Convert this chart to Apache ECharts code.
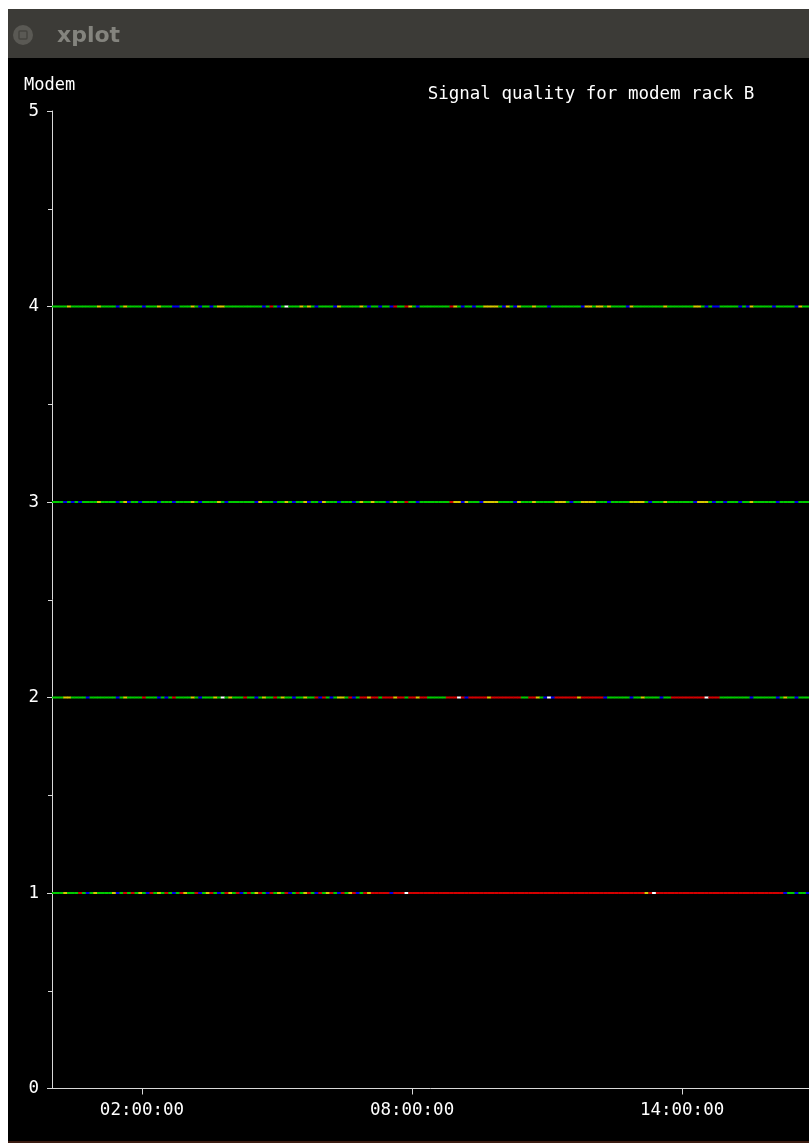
<!DOCTYPE html>
<html>
<head>
<meta charset="utf-8">
<script src="https://cdn.jsdelivr.net/npm/echarts@6/dist/echarts.min.js"></script>
<style>
html,body{margin:0;padding:0;background:#ffffff;}
#chart{width:809px;height:1143px;}
</style>
</head>
<body>
<div id="chart"></div>
<script>
// ---- data ----
const titleText = 'Signal quality for modem rack B';
const yAxisName = 'Modem';
const yTicks = [0, 1, 2, 3, 4, 5];
const xTickHours = [2, 8, 14];
const xTickLabels = ['02:00:00', '08:00:00', '14:00:00'];
const binMinutes = 5;           // each status character covers 5 minutes, starting 00:00:00
const statusCodes = ['G', 'B', 'Y', 'R', 'W'];

const modem1Status = [
  'GGGYGGGRGB','GYGGGGYBGR','GRGYGBRGYG','RGBGRYGGRB','GYRGBGRYGR',
  'BGRGYRGBRG','YGRBGRGYRG','BRGYRGBRGY','RBGRYRRRRR','BRRRWRRRRR',
  'RRRRRRRRRR','RRRRRRRRRR','RRRRRRRRRR','RRRRRRRRRR','RRRRRRRRRR',
  'RRRRRRRRYR','WRRRRRRRRR','RRRRRRRRRR','RRRRRRRRRR','RRRRRBGGBG','GB'
].join('');
const modem2Status = [
  'GGGYYGGGGB','GGGGGGGBGY','GGGGRGGGBG','BGRGGGGYGB','GGGYGWGYGG',
  'GRGGBGYGGR','GYGGBGGYGG','RBRGBGYYGR','BGRRYRRGRR','RYRRGRRYRR',
  'GGGGGRRRWR','BRRRRRYRRR','RRRRRGGRRY','GBWBRRRRRR','YRRRRRRBGG',
  'GGGGBGGYGG','GGBGGRRRRR','RRRRWRRRGG','GGGGGGBGGG','GGGBGYGGBG','GG'
].join('');
const modem3Status = [
  'GGGBGBGBGG','GGYGGGGBGY','BGGBGGGGBG','GGBGGGGYGB','GGGGYGBGGG',
  'GGGGBYGGGB','GGYGBGGYBG','GBYGGGBGGG','BGYGGYGGGB','GYGGRGGBGG',
  'GGGGGGRYYB','YGGGBYYYYG','GGGBYGGGYG','GGGGYYYGBG','GYYYYGGGBG',
  'GGGGYYYYGB','GGGYGGGGGG','GBYYYGBGGB','GGGBGGYGGG','GGGBGGGGBG','GG'
].join('');
const modem4Status = [
  'GGGGYGGGGG','GGYGGGGBGY','GGGGBGGGYG','GGBBGGGYGB','GGBGYYGGGG',
  'GGGGGGBGRG','BGWGGGYGYG','BGGGGBYGGG','GGYGBGGBGG','BRGGRYGBGG',
  'GGGGGGRYGB','GGBGGYYYYG','BYGBYGGGYG','GGBGGGGGGG','GBYYGYYGYG',
  'GGGBYGGGGG','GGGYGGGGGG','GYYGBGBBGG','GGGBGBYGGG','GGBGGGGGBY','GG'
].join('');

// ---- styling ----
const statusColors = ['#00cc00', '#0000ee', '#d8c800', '#d40000', '#ffffff'];
const monoFont = '"DejaVu Sans Mono", "Liberation Mono", monospace';

function buildSegments(str, modem) {
  const out = [];
  for (let i = 0; i < str.length; i++) {
    out.push([i * binMinutes / 60, (i + 1) * binMinutes / 60, modem, statusCodes.indexOf(str[i])]);
  }
  return out;
}
const segData = [].concat(
  buildSegments(modem1Status, 1),
  buildSegments(modem2Status, 2),
  buildSegments(modem3Status, 3),
  buildSegments(modem4Status, 4)
);

const chart = echarts.init(document.getElementById('chart'), null, {renderer: 'canvas'});
const option = {
  backgroundColor: '#000000',
  animation: false,
  grid: {left: 52, right: 0, top: 111, bottom: 54.5, containLabel: false},
  title: {
    text: titleText,
    left: 586, top: 80, textAlign: 'center',
    textStyle: {color: '#ffffff', fontFamily: monoFont, fontSize: 17.5, fontWeight: 'normal'}
  },
  xAxis: {
    type: 'value', min: 0, max: 16.82,
    splitLine: {show: false},
    axisLine: {show: true, lineStyle: {color: '#d8d8d8', width: 1}},
    axisTick: {show: true, length: 6, customValues: xTickHours, lineStyle: {color: '#d8d8d8'}},
    axisLabel: {
      show: true, customValues: xTickHours, margin: 13,
      color: '#ffffff', fontFamily: monoFont, fontSize: 17.5,
      formatter: function (v) { const i = xTickHours.indexOf(v); return i >= 0 ? xTickLabels[i] : ''; }
    }
  },
  yAxis: {
    type: 'value', min: yTicks[0], max: yTicks[yTicks.length - 1], interval: 1,
    name: yAxisName, nameLocation: 'end', nameGap: 17,
    nameTextStyle: {color: '#ffffff', fontFamily: monoFont, fontSize: 17, align: 'left', padding: [0, 0, 0, -28]},
    splitLine: {show: false},
    axisLine: {show: true, lineStyle: {color: '#d8d8d8', width: 1}},
    axisTick: {show: true, length: 5, lineStyle: {color: '#d8d8d8'}},
    minorTick: {show: true, splitNumber: 2, length: 4, lineStyle: {color: '#d8d8d8'}},
    axisLabel: {color: '#ffffff', fontFamily: monoFont, fontSize: 17.5, margin: 13}
  },
  series: [{
    type: 'custom',
    clip: true,
    encode: {x: [0, 1], y: 2},
    data: segData,
    renderItem: function (params, api) {
      const s = api.coord([api.value(0), api.value(2)]);
      const e = api.coord([api.value(1), api.value(2)]);
      return {
        type: 'rect',
        shape: {x: s[0], y: s[1] - 1, width: e[0] - s[0] + 0.3, height: 2},
        style: {fill: statusColors[api.value(3)]}
      };
    }
  }],
  graphic: [
    {type: 'rect', left: 0, top: 0, shape: {width: 809, height: 9}, style: {fill: '#ffffff'}, z: 100},
    {type: 'rect', left: 0, top: 0, shape: {width: 8, height: 1143}, style: {fill: '#ffffff'}, z: 100},
    {type: 'rect', left: 8, top: 9, shape: {width: 801, height: 49}, style: {fill: '#3c3b37'}, z: 100},
    {type: 'circle', shape: {cx: 23, cy: 35, r: 10}, style: {fill: '#5a5954'}, z: 101},
    {type: 'rect', shape: {x: 19, y: 31, width: 8, height: 8, r: 1}, style: {fill: 'none', stroke: '#45443f', lineWidth: 1.5}, z: 102},
    {type: 'text', x: 57, y: 36, style: {text: 'xplot', fill: '#84847e', font: 'bold 22px "DejaVu Sans", sans-serif', verticalAlign: 'middle', textVerticalAlign: 'middle'}, z: 101},
    {type: 'rect', left: 8, top: 1141, shape: {width: 801, height: 2}, style: {fill: '#3a1c12'}, z: 100}
  ]
};
chart.setOption(option);
</script>
</body>
</html>
